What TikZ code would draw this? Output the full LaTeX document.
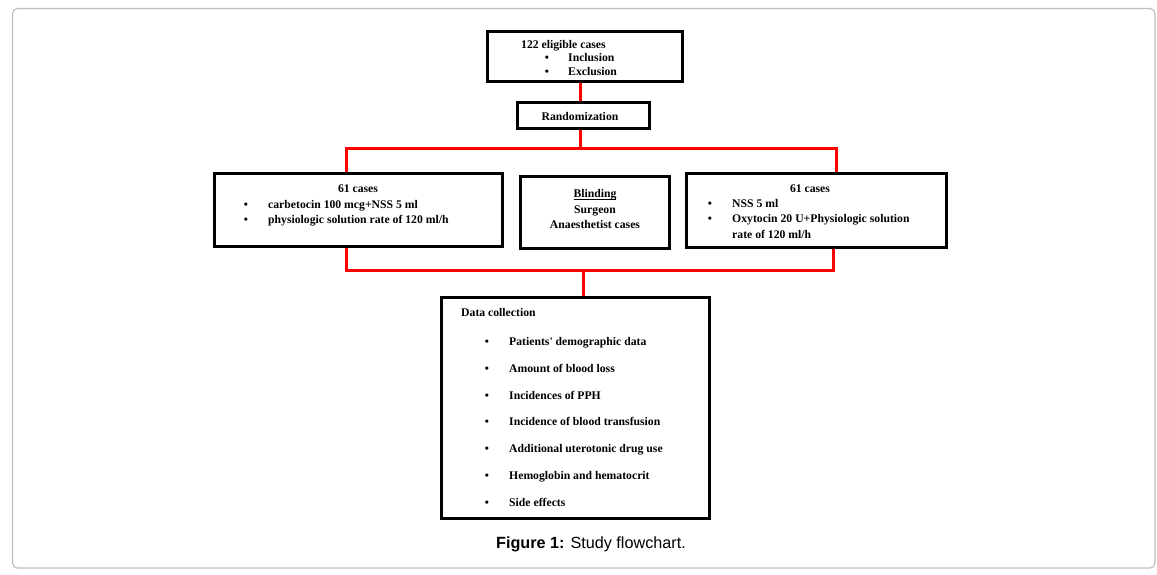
\documentclass[tikz,border=0pt]{standalone}
\usepackage{fontspec}
\setmainfont{Liberation Serif}
\newfontfamily\capfont{Liberation Sans}
\pgfdeclarelayer{bg}
\pgfsetlayers{bg,main}
\newcommand{\myuline}[1]{{\setbox0\hbox{#1}\rlap{\rule[-1.7pt]{\wd0}{0.8pt}}\box0}}
\begin{document}
\begin{tikzpicture}[x=1pt,y=-1pt,
  box/.style={draw=black,line width=3pt,inner sep=0pt,outer sep=0pt,fill=white},
  txt/.style={inner sep=0pt,font=\fontsize{11.7}{14}\selectfont\bfseries},
  redline/.style={draw=red,line width=3pt}]
\useasboundingbox (0,0) rectangle (1157,574);
\draw[draw=black!25,line width=1.2pt,rounded corners=5pt] (12.5,8.5) rectangle (1155,568);
% boxes
\node[box,minimum width=195pt,minimum height=50pt] (top) at (585,56.5) {};
\node[box,minimum width=132pt,minimum height=26pt] (rand) at (583.5,115.5) {};
\node[box,minimum width=288pt,minimum height=73pt] (left) at (358.5,210) {};
\node[box,minimum width=149pt,minimum height=72pt] (blind) at (595,212.5) {};
\node[box,minimum width=260pt,minimum height=74pt] (right) at (816.5,210.5) {};
\node[box,minimum width=268pt,minimum height=221pt] (data) at (575.5,408) {};
% connectors
\coordinate (j1) at (580,148);
\coordinate (jl) at (346,148);
\coordinate (jr) at (836,148);
\coordinate (kl) at (346,270);
\coordinate (kr) at (833,270);
\coordinate (km) at (583,270);
\begin{pgfonlayer}{bg}
\draw[redline] (top.south -| j1) -- (rand.north -| j1);
\draw[redline] (rand.south -| j1) -- (j1);
\draw[redline] (left.north -| jl) -- (jl) -- (jr) -- (right.north -| jr);
\draw[redline] (left.south -| kl) -- (kl) -- (kr) -- (right.south -| kr);
\draw[redline] (km) -- (data.north -| km);
\end{pgfonlayer}
% top box text
\node[txt,anchor=mid west] (t1) at (521,46) {122 eligible cases};
\node[txt,anchor=mid] (t2b) at (547,59.5) {•};
\node[txt,anchor=mid west] (t2) at (568,59.5) {Inclusion};
\node[txt,anchor=mid] (t3b) at (547,73) {•};
\node[txt,anchor=mid west] (t3) at (568,73) {Exclusion};
\node[txt,anchor=mid] (r1) at (580,118) {Randomization};
% left
\node[txt,anchor=mid] (l1) at (358,190.5) {61 cases};
\node[txt,anchor=mid] (l2b) at (246,206) {•};
\node[txt,anchor=mid west] (l2) at (268,206) {carbetocin 100 mcg+NSS 5 ml};
\node[txt,anchor=mid] (l3b) at (246,221) {•};
\node[txt,anchor=mid west] (l3) at (268,221) {physiologic solution rate of 120 ml/h};
% blinding
\node[txt,anchor=mid] (b1) at (595,195.5) {\myuline{Blinding}};
\node[txt,anchor=mid] (b2) at (595,211) {Surgeon};
\node[txt,anchor=mid] (b3) at (595,226) {Anaesthetist cases};
% right
\node[txt,anchor=mid] (rr1) at (810,190.5) {61 cases};
\node[txt,anchor=mid] (rr2b) at (710,205.5) {•};
\node[txt,anchor=mid west] (rr2) at (732,205.5) {NSS 5 ml};
\node[txt,anchor=mid] (rr3b) at (710,220.5) {•};
\node[txt,anchor=mid west] (rr3) at (732,220.5) {Oxytocin 20 U+Physiologic solution};
\node[txt,anchor=mid west] (rr4) at (732,236) {rate of 120 ml/h};
% data collection
\node[txt,anchor=mid west] (d0) at (461,314) {Data collection};
\foreach \y/\t [count=\i] in {343/{Patients\textquotesingle\ demographic data},370/{Amount of blood loss},397/{Incidences of PPH},423/{Incidence of blood transfusion},450/{Additional uterotonic drug use},477/{Hemoglobin and hematocrit},504/{Side effects}}{
  \node[txt,anchor=mid] (db\i) at (487,\y) {•};
  \node[txt,anchor=mid west] (d\i) at (509,\y) {\t};
}
% caption
\node[inner sep=0pt,anchor=mid,font=\capfont\fontsize{16.2}{19}\selectfont] (cap) at (591,546) {\textbf{Figure 1:} Study flowchart.};
\end{tikzpicture}
\end{document}
